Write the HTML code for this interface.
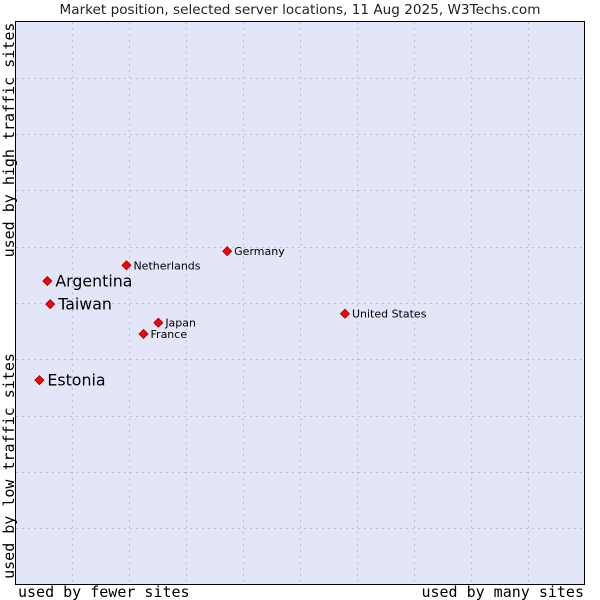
<!DOCTYPE html>
<html><head><meta charset="utf-8"><style>
body{margin:0;background:#fff;}
svg{display:block;font-family:"DejaVu Sans","Liberation Sans",sans-serif;}
</style></head><body>
<svg id="chart" width="600" height="600">
<text x="300" y="14" text-anchor="middle" font-size="13.6" fill="#222">Market position, selected server locations, 11 Aug 2025, W3Techs.com</text>
<rect x="15.5" y="21.5" width="569" height="563" fill="#e3e5f8" stroke="#000" stroke-width="1"/>
<g id="grid"></g>
<text font-family="DejaVu Sans Mono,Liberation Mono,monospace" font-size="15" transform="translate(14,140) rotate(-90)" text-anchor="middle">used by high traffic sites</text>
<text font-family="DejaVu Sans Mono,Liberation Mono,monospace" font-size="15" transform="translate(14,466) rotate(-90)" text-anchor="middle">used by low traffic sites</text>
<text x="18" y="597" font-family="DejaVu Sans Mono,Liberation Mono,monospace" font-size="15">used by fewer sites</text>
<text x="584" y="597" text-anchor="end" font-family="DejaVu Sans Mono,Liberation Mono,monospace" font-size="15">used by many sites</text>
<g id="points"></g>
</svg>
<script>
const categories=["Argentina","Taiwan","Estonia","Netherlands","Germany","United States","Japan","France"];
const xValues=[5.6,6.1,4.2,19.5,37.2,57.9,25.1,22.5];
const yValues=[53.9,49.8,36.3,56.7,59.2,48.1,46.5,44.5];
const highlighted=[true,true,true,false,false,false,false,false];
const X0=15.5,X1=584.5,Y0=584.5,Y1=21.5;
const xs=v=>X0+(v/100)*(X1-X0);
const ys=v=>Y0-(v/100)*(Y0-Y1);
const NS="http://www.w3.org/2000/svg";
const grid=document.getElementById('grid');
for(let i=1;i<10;i++){
  const x=Math.round(xs(i*10))+0.5, y=Math.round(ys(i*10))+0.5;
  const v=document.createElementNS(NS,'line');
  v.setAttribute('x1',x);v.setAttribute('x2',x);v.setAttribute('y1',22);v.setAttribute('y2',584);
  v.setAttribute('stroke','#c0c0c0');v.setAttribute('stroke-dasharray','2,4');
  
  
  grid.appendChild(v);
  const h=document.createElementNS(NS,'line');
  h.setAttribute('y1',y);h.setAttribute('y2',y);h.setAttribute('x1',16);h.setAttribute('x2',584);
  h.setAttribute('stroke','#c0c0c0');h.setAttribute('stroke-dasharray','2,4');
  
  
  grid.appendChild(h);
}
const pts=document.getElementById('points');
categories.forEach((c,i)=>{
  const x=xs(xValues[i]),y=ys(yValues[i]);
  const d=document.createElementNS(NS,'path');
  d.setAttribute('d',`M${x} ${y-4.5}L${x+4.5} ${y}L${x} ${y+4.5}L${x-4.5} ${y}Z`);
  d.setAttribute('fill','#ff0000');d.setAttribute('stroke','#900');d.setAttribute('stroke-width','0.8');
  
  
  pts.appendChild(d);
  const t=document.createElementNS(NS,'text');
  const big=highlighted[i];
  t.setAttribute('x',x+(big?8:7));t.setAttribute('y',y+(big?5.5:4));
  t.setAttribute('font-size',big?15.8:11);t.setAttribute('fill','#000');
  t.textContent=c;
  
  
  pts.appendChild(t);
});
</script>
</body></html>
